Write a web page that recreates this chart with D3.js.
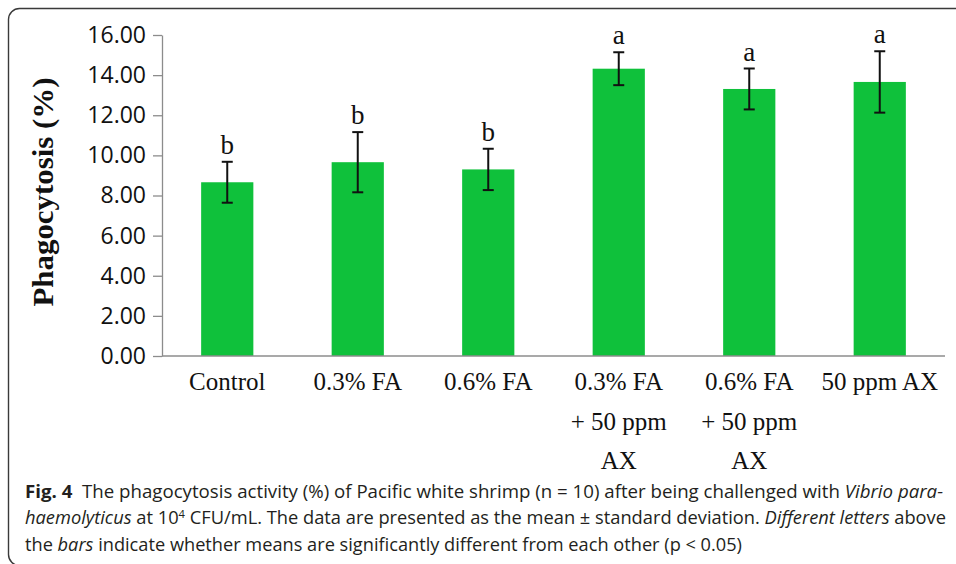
<!DOCTYPE html>
<html>
<head>
<meta charset="utf-8">
<script src="https://cdn.jsdelivr.net/npm/d3@7"></script>
<style>
  body { margin: 0; background: #fff; }
  svg { display: block; }
</style>
</head>
<body>
<div id="chart"></div>
<script>
// values
var categories = ["Control", "0.3% FA", "0.6% FA", "0.3% FA\n+ 50 ppm\nAX", "0.6% FA\n+ 50 ppm\nAX", "50 ppm AX"];
var means = [8.66, 9.66, 9.30, 14.32, 13.31, 13.66];
var sds = [1.02, 1.50, 1.03, 0.82, 1.02, 1.53];
var letters = ["b", "b", "b", "a", "a", "a"];
var yTicks = [0, 2, 4, 6, 8, 10, 12, 14, 16];

var W = 956, H = 564;
var svg = d3.select("#chart").append("svg")
  .attr("width", W).attr("height", H);

// figure frame
svg.append("rect")
  .attr("x", 8.5).attr("y", 8.5)
  .attr("width", 1000).attr("height", 557)
  .attr("rx", 11)
  .attr("fill", "none")
  .attr("stroke", "#3a3a3a")
  .attr("stroke-width", 1.4);

var x = d3.scaleBand()
  .domain(categories)
  .range([162, 945])
  .paddingInner(0.6)
  .paddingOuter(0.3);

var y = d3.scaleLinear()
  .domain([0, 16])
  .range([356, 35]);

var data = categories.map(function(c, i) {
  return { cat: c, mean: means[i], sd: sds[i], letter: letters[i] };
});

// y axis
var yAxis = svg.append("g")
  .attr("transform", "translate(162,0)")
  .call(d3.axisLeft(y).tickValues(yTicks).tickFormat(d3.format(".2f"))
    .tickSizeInner(9).tickSizeOuter(0).tickPadding(7));
yAxis.select(".domain").attr("stroke", "#8c8c8c").attr("stroke-width", 1.3);
yAxis.selectAll(".tick line").attr("stroke", "#8c8c8c").attr("stroke-width", 1.3);
yAxis.selectAll(".tick text")
  .attr("fill", "#111")
  .style("font-family", "'Open Sans', sans-serif")
  .style("font-size", "23px");

// bars
svg.selectAll("rect.bar")
  .data(data)
  .enter().append("rect")
    .attr("class", "bar")
    .attr("x", function(d) { return x(d.cat); })
    .attr("y", function(d) { return y(d.mean); })
    .attr("width", x.bandwidth())
    .attr("height", function(d) { return y(0) - y(d.mean); })
    .attr("fill", "#0fc13b");

// x axis line
svg.append("line")
  .attr("x1", 162).attr("x2", 945)
  .attr("y1", y(0)).attr("y2", y(0))
  .attr("stroke", "#8c8c8c").attr("stroke-width", 1.3);

// error bars
var eb = svg.selectAll("g.err")
  .data(data)
  .enter().append("g")
    .attr("class", "err")
    .attr("transform", function(d) { return "translate(" + (x(d.cat) + x.bandwidth() / 2) + ",0)"; });
eb.append("line")
  .attr("y1", function(d) { return y(d.mean + d.sd); })
  .attr("y2", function(d) { return y(d.mean - d.sd); });
eb.append("line")
  .attr("x1", -5.5).attr("x2", 5.5)
  .attr("y1", function(d) { return y(d.mean + d.sd); })
  .attr("y2", function(d) { return y(d.mean + d.sd); });
eb.append("line")
  .attr("x1", -5.5).attr("x2", 5.5)
  .attr("y1", function(d) { return y(d.mean - d.sd); })
  .attr("y2", function(d) { return y(d.mean - d.sd); });
eb.selectAll("line").attr("stroke", "#111").attr("stroke-width", 2);

// significance letters
eb.append("text")
  .attr("y", function(d) { return y(d.mean + d.sd) - 8; })
  .attr("text-anchor", "middle")
  .style("font-family", "'Liberation Serif', 'Times New Roman', serif")
  .style("font-size", "27px")
  .attr("fill", "#111")
  .text(function(d) { return d.letter; });

// category labels
var lab = svg.selectAll("text.cat")
  .data(categories)
  .enter().append("text")
    .attr("class", "cat")
    .attr("x", function(d) { return x(d) + x.bandwidth() / 2; })
    .attr("y", 390)
    .attr("text-anchor", "middle")
    .style("font-family", "'Liberation Serif', 'Times New Roman', serif")
    .style("font-size", "25px")
    .attr("fill", "#111");
lab.each(function(d) {
  var t = d3.select(this);
  d.split("\n").forEach(function(line, i) {
    t.append("tspan")
      .attr("x", x(d) + x.bandwidth() / 2)
      .attr("dy", i === 0 ? 0 : 39.5)
      .text(line);
  });
});

// y title
svg.append("text")
  .attr("transform", "translate(53,192) rotate(-90)")
  .attr("text-anchor", "middle")
  .attr("textLength", 229)
  .attr("lengthAdjust", "spacingAndGlyphs")
  .style("font-family", "'Liberation Serif', 'Times New Roman', serif")
  .style("font-size", "30px")
  .style("font-weight", "bold")
  .attr("fill", "#111")
  .text("Phagocytosis (%)");

// caption
var cap = svg.append("g")
  .style("font-family", "'Open Sans', sans-serif")
  .style("font-size", "18px")
  .attr("fill", "#231f20");

var l1 = cap.append("text").attr("x", 25).attr("y", 498)
  .attr("textLength", 918).attr("lengthAdjust", "spacingAndGlyphs");
l1.append("tspan").style("font-weight", "bold").text("Fig. 4");
l1.append("tspan").text("\u00a0 The phagocytosis activity (%) of Pacific white shrimp (n = 10) after being challenged with ");
l1.append("tspan").style("font-style", "italic").text("Vibrio para-");

var l2 = cap.append("text").attr("x", 25).attr("y", 524)
  .attr("textLength", 921).attr("lengthAdjust", "spacingAndGlyphs");
l2.append("tspan").style("font-style", "italic").text("haemolyticus");
l2.append("tspan").text(" at 10");
l2.append("tspan").attr("dy", -6).style("font-size", "11px").text("4");
l2.append("tspan").attr("dy", 6).text(" CFU/mL. The data are presented as the mean \u00b1 standard deviation. ");
l2.append("tspan").style("font-style", "italic").text("Different letters");
l2.append("tspan").text(" above");

var l3 = cap.append("text").attr("x", 25).attr("y", 551)
  .attr("textLength", 717).attr("lengthAdjust", "spacingAndGlyphs");
l3.append("tspan").text("the ");
l3.append("tspan").style("font-style", "italic").text("bars");
l3.append("tspan").text(" indicate whether means are significantly different from each other (p < 0.05)");
</script>
</body>
</html>
